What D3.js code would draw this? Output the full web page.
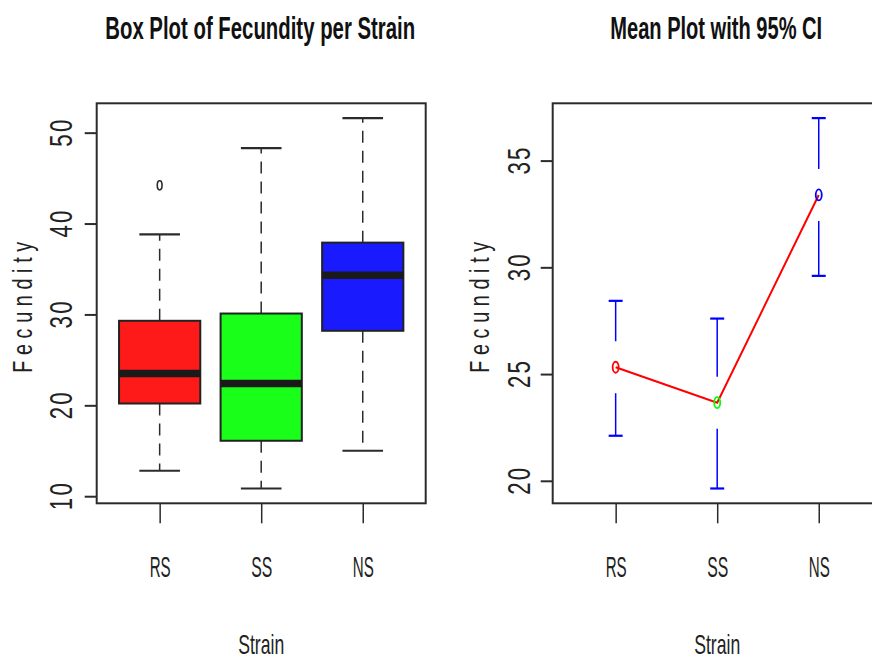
<!DOCTYPE html>
<html>
<head>
<meta charset="utf-8">
<script src="https://cdn.jsdelivr.net/npm/d3@7"></script>
<style>
  html, body { margin: 0; padding: 0; background: #fff; }
  svg { display: block; font-family: "Liberation Sans", Arial, sans-serif; }
</style>
</head>
<body>
<svg id="chart" width="872" height="662"></svg>
<script>
// ---- data ----
const strains = ["RS", "SS", "NS"];
const boxLower  = [12.8, 10.85, 15.0];
const boxQ1     = [20.2, 16.1, 28.2];
const boxMedian = [23.5, 22.4, 34.3];
const boxQ3     = [29.3, 30.1, 37.9];
const boxUpper  = [38.8, 48.3, 51.6];
const outliers  = [[44.2], [], []];
const boxColors = ["#ff1a1a", "#1aff1a", "#1a1aff"];

const means   = [25.32, 23.66, 33.39];
const ciLower = [22.11, 19.64, 29.6];
const ciUpper = [28.43, 27.6, 36.99];
const pointColors = ["#ff0000", "#00ff00", "#0000ff"];

const leftTicks  = [10, 20, 30, 40, 50];
const rightTicks = [20, 25, 30, 35];
const titles = ["Box Plot of Fecundity per Strain", "Mean Plot with 95% CI"];
const yLabel = "Fecundity";
const xLabel = "Strain";

// ---- layout ----
const svg = d3.select("#chart");
const panelTop = 103.3, panelBottom = 503.3, panelW = 329;
const leftX0 = 96.7, rightX0 = 552.7;
const ink = "#2b2b2b";

function extend(lo, hi) { const r = hi - lo; return [lo - 0.04 * r, hi + 0.04 * r]; }

function placeText(parent, str, x, y, rot, size, target, s, weight, fill) {
  const t = parent.append("text")
    .attr("text-anchor", "middle")
    .attr("fill", fill || "#222")
    .attr("font-weight", weight || "normal")
    .style("font-size", size + "px")
    .style("font-family", "'Liberation Sans', Arial, sans-serif")
    .text(str);
  const nat = t.node().getComputedTextLength();
  const n = str.length;
  let ls = 0;
  if (n > 1) ls = Math.max(0, (target / s - nat) / (n - 1));
  let sx = s;
  if (ls === 0) sx = target / nat;
  t.style("letter-spacing", ls + "px");
  t.attr("x", ls / 2);
  t.attr("transform", `translate(${x},${y}) rotate(${rot}) scale(${sx},1)`);
  return t;
}

function drawPanel(x0, yDomain, ticks, title, titleLen, tickLabOff, ylabX) {
  const x = d3.scaleLinear().domain([0.38, 3.62]).range([x0, x0 + panelW]);
  const y = d3.scaleLinear().domain(yDomain).range([panelBottom, panelTop]);
  const g = svg.append("g");

  const ya = g.append("g").attr("transform", `translate(${x0},0)`)
    .call(d3.axisLeft(y).tickValues(ticks).tickSize(12).tickFormat(""));
  ya.select(".domain").remove();
  ya.selectAll(".tick line").attr("stroke", ink).attr("stroke-width", 2);
  ya.selectAll(".tick").each(function(d) {
    placeText(d3.select(this), d3.format("d")(d), tickLabOff, 0, -90, 31, 27, 0.72);
  });

  const xa = g.append("g").attr("transform", `translate(0,${panelBottom})`)
    .call(d3.axisBottom(x).tickValues([1, 2, 3]).tickSize(20).tickFormat(""));
  xa.select(".domain").remove();
  xa.selectAll(".tick line").attr("stroke", ink).attr("stroke-width", 1.5);
  xa.selectAll(".tick").each(function(d, i) {
    placeText(d3.select(this), strains[i], 0, 74, 0, 29.5, 21, 1);
  });

  g.append("rect").attr("x", x0).attr("y", panelTop)
    .attr("width", panelW).attr("height", panelBottom - panelTop)
    .attr("fill", "none").attr("stroke", ink).attr("stroke-width", 2);

  placeText(svg, title, x0 + panelW / 2 - 1, 38.5, 0, 32, titleLen, 1, "bold", "#111");
  placeText(svg, xLabel, x0 + panelW / 2, 653.5, 0, 27, 46, 1);
  placeText(svg, yLabel, ylabX, (panelTop + panelBottom) / 2 + 4, -90, 27.5, 131, 0.72);

  return { g, x, y };
}

// ---- left: box plot ----
const L = drawPanel(leftX0, extend(d3.min(boxLower), d3.max(boxUpper)),
  leftTicks, titles[0], 310, -25, 32);

strains.forEach((s, i) => {
  const c = i + 1;
  const gb = L.g.append("g");
  gb.append("line").attr("x1", L.x(c)).attr("x2", L.x(c))
    .attr("y1", L.y(boxQ3[i])).attr("y2", L.y(boxUpper[i]))
    .attr("stroke", ink).attr("stroke-width", 1.5).attr("stroke-dasharray", "12,8");
  gb.append("line").attr("x1", L.x(c)).attr("x2", L.x(c))
    .attr("y1", L.y(boxQ1[i])).attr("y2", L.y(boxLower[i]))
    .attr("stroke", ink).attr("stroke-width", 1.5).attr("stroke-dasharray", "12,8");
  [boxUpper[i], boxLower[i]].forEach(v => {
    gb.append("line").attr("x1", L.x(c - 0.2)).attr("x2", L.x(c + 0.2))
      .attr("y1", L.y(v)).attr("y2", L.y(v))
      .attr("stroke", ink).attr("stroke-width", 2.2);
  });
  gb.append("rect").attr("x", L.x(c - 0.4)).attr("width", L.x(c + 0.4) - L.x(c - 0.4))
    .attr("y", L.y(boxQ3[i])).attr("height", L.y(boxQ1[i]) - L.y(boxQ3[i]))
    .attr("fill", boxColors[i]).attr("stroke", "#222").attr("stroke-width", 2);
  gb.append("line").attr("x1", L.x(c - 0.4)).attr("x2", L.x(c + 0.4))
    .attr("y1", L.y(boxMedian[i])).attr("y2", L.y(boxMedian[i]))
    .attr("stroke", "#1a1a1a").attr("stroke-width", 7.5);
  outliers[i].forEach(v => {
    gb.append("ellipse").attr("cx", L.x(c)).attr("cy", L.y(v))
      .attr("rx", 2.4).attr("ry", 4.6)
      .attr("fill", "none").attr("stroke", ink).attr("stroke-width", 1.6);
  });
});

// ---- right: mean plot with CI ----
const R = drawPanel(rightX0, extend(d3.min(ciLower), d3.max(ciUpper)),
  rightTicks, titles[1], 212, -23, 488.5);

const gap = 26;
strains.forEach((s, i) => {
  const c = i + 1, cx = R.x(c), my = R.y(means[i]);
  R.g.append("line").attr("x1", cx).attr("x2", cx)
    .attr("y1", R.y(ciUpper[i])).attr("y2", my - gap)
    .attr("stroke", "#0000ff").attr("stroke-width", 1.5);
  R.g.append("line").attr("x1", cx).attr("x2", cx)
    .attr("y1", my + gap).attr("y2", R.y(ciLower[i]))
    .attr("stroke", "#0000ff").attr("stroke-width", 1.5);
  [ciUpper[i], ciLower[i]].forEach(v => {
    R.g.append("line").attr("x1", cx - 7).attr("x2", cx + 7)
      .attr("y1", R.y(v)).attr("y2", R.y(v))
      .attr("stroke", "#0000ff").attr("stroke-width", 2.2);
  });
});

R.g.append("path")
  .datum(means)
  .attr("d", d3.line().x((d, i) => R.x(i + 1)).y(d => R.y(d)))
  .attr("fill", "none").attr("stroke", "#ff0000").attr("stroke-width", 2);

R.g.selectAll("ellipse.mean").data(means).enter().append("ellipse")
  .attr("class", "mean")
  .attr("cx", (d, i) => R.x(i + 1)).attr("cy", d => R.y(d))
  .attr("rx", 3).attr("ry", 5.5)
  .attr("fill", "none").attr("stroke", (d, i) => pointColors[i]).attr("stroke-width", 1.8);
</script>
</body>
</html>
